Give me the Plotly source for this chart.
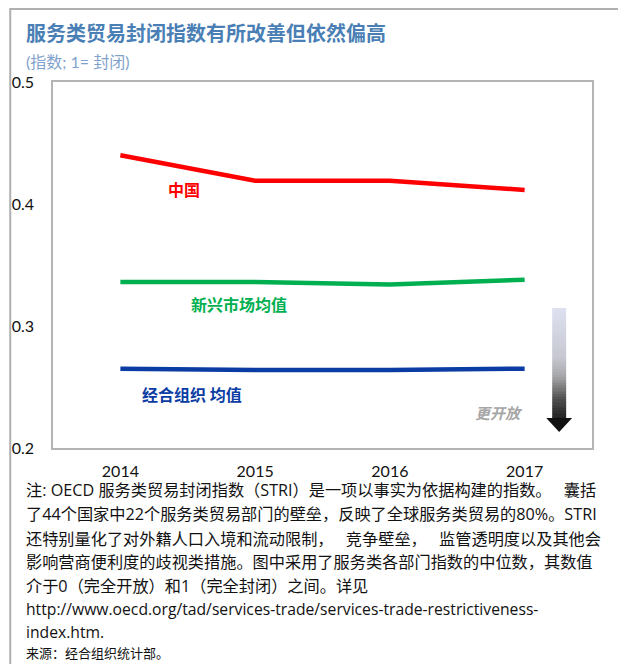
import plotly.graph_objects as go

# ---------------- data ----------------
years = ["2014", "2015", "2016", "2017"]
china = [0.440, 0.419, 0.419, 0.4115]
emerging = [0.336, 0.336, 0.334, 0.338]
oecd = [0.265, 0.264, 0.264, 0.265]
y_ticks = [0.2, 0.3, 0.4, 0.5]
y_tick_text = ["0.2", "0.3", "0.4", "0.5"]

title_text = "服务类贸易封闭指数有所改善但依然偏高"
subtitle_text = "(指数; 1= 封闭)"
note_lines = [
    "注: OECD 服务类贸易封闭指数（STRI）是一项以事实为依据构建的指数。\u2002 囊括",
    "了44个国家中22个服务类贸易部门的壁垒，反映了全球服务类贸易的80%。STRI",
    "还特别量化了对外籍人口入境和流动限制，\u2002 竞争壁垒，\u2002 监管透明度以及其他会",
    "影响营商便利度的歧视类措施。图中采用了服务类各部门指数的中位数，其数值",
    "介于0（完全开放）和1（完全封闭）之间。详见",
    "http://www.oecd.org/tad/services-trade/services-trade-restrictiveness-",
    "index.htm.",
]
source_text = "来源：经合组织统计部。"

# ---------------- layout geometry ----------------
W, H = 618, 664
L, R, T, B = 50, 592, 82, 448          # plot area in pixels
FONT = "Noto Sans CJK SC"
LATIN = "Lato, Noto Sans CJK SC"
NOTE = "Open Sans, Noto Sans CJK SC"
RED, GREEN, BLUE = "#ff0000", "#00b050", "#0a3ca3"


def px(x):
    return (x - L) / (R - L)


def py(y):
    return (B - y) / (B - T)


fig = go.Figure()
for vals, col in [(china, RED), (emerging, GREEN), (oecd, BLUE)]:
    fig.add_trace(go.Scatter(x=years, y=vals, mode="lines",
                             line=dict(color=col, width=4.5),
                             hoverinfo="skip", showlegend=False))

annotations = []
# title and subtitle
annotations.append(dict(xref="paper", yref="paper", x=px(21), y=py(33),
                        xanchor="left", yanchor="middle", showarrow=False,
                        text="<b>" + title_text + "</b>",
                        font=dict(family=FONT, size=20, color="#4a7fb5")))
annotations.append(dict(xref="paper", yref="paper", x=px(21), y=py(61),
                        xanchor="left", yanchor="middle", showarrow=False,
                        text=subtitle_text,
                        font=dict(family=LATIN, size=16, color="#7fa2cc")))

# series labels
for txt, col, xi, yv in [("中国", RED, 0.474, 0.412),
                         ("新兴市场均值", GREEN, 0.880, 0.318),
                         ("经合组织 均值", BLUE, 0.533, 0.2443)]:
    annotations.append(dict(xref="x", yref="y", x=xi, y=yv, showarrow=False,
                            xanchor="center", yanchor="middle",
                            text="<b>" + txt + "</b>",
                            font=dict(family=FONT, size=16, color=col)))
annotations.append(dict(xref="paper", yref="paper", x=px(525), y=py(412),
                        xanchor="right", yanchor="middle", showarrow=False,
                        text="<b><i>更开放</i></b>",
                        font=dict(family=FONT, size=15, color="#a6a6a6")))

# notes
note_y = [490, 514, 539, 562, 586, 609, 632]
note_size = [16.2, 16.2, 16.2, 16.2, 16.2, 15.7, 15.7]
for line, yy, fs in zip(note_lines, note_y, note_size):
    annotations.append(dict(xref="paper", yref="paper", x=px(21), y=py(yy),
                            xanchor="left", yanchor="middle", showarrow=False,
                            text=line,
                            font=dict(family=NOTE, size=fs, color="#111111")))
annotations.append(dict(xref="paper", yref="paper", x=px(21), y=py(652),
                        xanchor="left", yanchor="middle", showarrow=False,
                        text=source_text,
                        font=dict(family=FONT, size=13, color="#111111")))

# ---------------- decorative shapes ----------------
shapes = []
# outer frame
shapes.append(dict(type="rect", xref="paper", yref="paper",
                   x0=px(7), x1=px(700), y0=py(9), y1=py(760),
                   line=dict(color="#b0b0b0", width=2), layer="below"))

# gradient arrow
stops = [(0.0, (222, 225, 240)), (0.45, (198, 199, 208)), (0.62, (165, 165, 168)),
         (0.82, (80, 80, 80)), (1.0, (30, 30, 30))]


def grad(t):
    for (t0, c0), (t1, c1) in zip(stops[:-1], stops[1:]):
        if t0 <= t <= t1:
            f = (t - t0) / (t1 - t0)
            return "rgb(%d,%d,%d)" % tuple(round(a + (b - a) * f) for a, b in zip(c0, c1))
    return "rgb(30,30,30)"


top, bot, n = 308, 419, 40
for i in range(n):
    y0 = top + (bot - top) * i / n
    y1 = top + (bot - top) * (i + 1) / n + 0.6
    shapes.append(dict(type="rect", xref="paper", yref="paper",
                       x0=px(552), x1=px(566), y0=py(y0), y1=py(y1),
                       line=dict(width=0), fillcolor=grad((i + 0.5) / n)))
shapes.append(dict(type="path", xref="paper", yref="paper",
                   path="M %f,%f L %f,%f L %f,%f Z" % (px(546), py(418), px(572), py(418),
                                                       px(559), py(432)),
                   line=dict(width=0), fillcolor="#111111"))

fig.update_layout(
    width=W, height=H,
    margin=dict(l=L, r=W - R, t=T, b=H - B),
    paper_bgcolor="white", plot_bgcolor="white",
    showlegend=False,
    annotations=annotations, shapes=shapes,
    xaxis=dict(type="category", range=[-0.5, 3.5], showgrid=False, zeroline=False,
               showline=True, mirror=True, linecolor="#b4b4b4", linewidth=1.5,
               ticks="", ticklabelstandoff=8,
               tickfont=dict(family=LATIN, size=16, color="#111111")),
    yaxis=dict(range=[0.2, 0.5], tickvals=y_ticks, ticktext=y_tick_text,
               showgrid=False, zeroline=False,
               showline=True, mirror=True, linecolor="#b4b4b4", linewidth=1.5,
               ticks="", ticklabelstandoff=14,
               tickfont=dict(family=LATIN, size=16, color="#111111")),
)

fig.write_html("out.html", config={"displayModeBar": False},
               post_script="document.body.style.margin='0';")
